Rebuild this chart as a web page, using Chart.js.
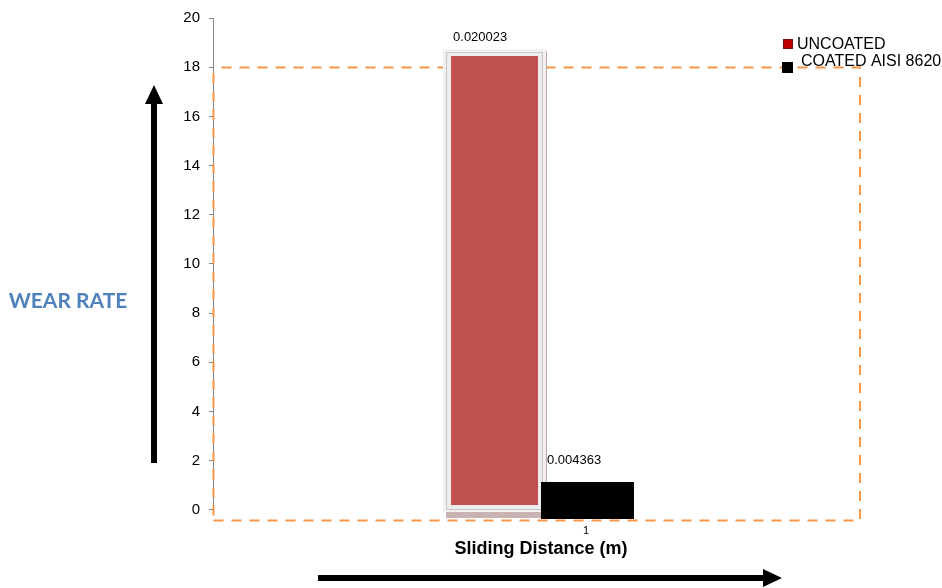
<!DOCTYPE html>
<html>
<head>
<meta charset="utf-8">
<script src="https://cdn.jsdelivr.net/npm/chart.js@4/dist/chart.umd.min.js"></script>
<style>
  html, body { margin: 0; padding: 0; background: #ffffff; }
  #wrap { width: 942px; height: 588px; position: relative; }
</style>
</head>
<body>
<div id="wrap"><canvas id="c" width="942" height="588"></canvas></div>
<script>
// Wear rate by sliding distance
const categories = ['1'];
const seriesNames = ['UNCOATED', 'COATED AISI 8620'];
const uncoated = [18.45];
const coated = [1.14];
const uncoatedBase = 0.2;
const coatedBase = -0.37;
const uncoatedLabels = ['0.020023'];
const coatedLabels = ['0.004363'];
const yTicks = [0, 2, 4, 6, 8, 10, 12, 14, 16, 18, 20];
const guideLevel = 18;

const FONT = '"Liberation Sans", Arial, sans-serif';
const RED = '#c0504d';
const ORANGE = '#f79646';

const decorations = {
  id: 'decorations',
  beforeDatasetsDraw(chart) {
    const { ctx, chartArea, scales } = chart;
    const y = scales.y;
    ctx.save();

    // dashed guide box
    ctx.strokeStyle = ORANGE;
    ctx.lineWidth = 2;
    ctx.setLineDash([10, 8]);
    const top = Math.round(y.getPixelForValue(guideLevel)) + 0.5;
    const bottom = Math.round(chartArea.bottom) - 0.5;
    const left = chartArea.left + 0.5;
    const right = chartArea.right - 9;
    ctx.beginPath();
    ctx.moveTo(left, bottom);
    ctx.lineTo(right, bottom);
    ctx.lineTo(right, top);
    ctx.lineTo(left, top);
    ctx.stroke();
    ctx.setLineDash([]);

    // value axis line
    ctx.strokeStyle = '#868686';
    ctx.lineWidth = 1;
    ctx.beginPath();
    ctx.moveTo(chartArea.left + 0.5, y.getPixelForValue(yTicks[yTicks.length - 1]));
    ctx.lineTo(chartArea.left + 0.5, y.getPixelForValue(yTicks[0]) + 2);
    ctx.stroke();

    // dashed left edge over the axis
    ctx.strokeStyle = ORANGE;
    ctx.lineWidth = 2;
    ctx.setLineDash([10, 8]);
    ctx.beginPath();
    ctx.moveTo(left, top + 6);
    ctx.lineTo(left, bottom);
    ctx.stroke();
    ctx.setLineDash([]);

    // framed panel behind the uncoated bar
    const bar = chart.getDatasetMeta(0).data[0];
    if (bar) {
      const bl = bar.x - bar.width / 2;
      const br = bar.x + bar.width / 2;
      const bt = bar.y;
      const bb = bar.base;
      ctx.fillStyle = '#c9b2b2';
      ctx.fillRect(bl - 5, bb + 7, br - bl + 10, 6);
      ctx.fillStyle = '#c7a4a4';
      ctx.fillRect(br + 7, bt - 5, 2, bb - bt + 14);
      ctx.fillStyle = '#f1f1f1';
      ctx.fillRect(bl - 8, bt - 7, br - bl + 16, bb - bt + 14);
      ctx.strokeStyle = '#c6c6c6';
      ctx.lineWidth = 1;
      ctx.strokeRect(bl - 4.5, bt - 3.5, br - bl + 9, bb - bt + 8);
      ctx.fillStyle = '#ededed';
      ctx.fillRect(bl - 4, bt - 3, br - bl + 8, bb - bt + 7);
    }
    ctx.restore();
  },
  afterDatasetsDraw(chart) {
    const { ctx } = chart;
    ctx.save();
    ctx.fillStyle = '#000';
    ctx.font = '13px ' + FONT;
    ctx.textAlign = 'left';
    ctx.textBaseline = 'middle';
    [uncoatedLabels, coatedLabels].forEach((labels, i) => {
      chart.getDatasetMeta(i).data.forEach((bar, j) => {
        const offset = i === 0 ? 2 : 6;
        const rise = i === 0 ? 19 : 21;
        ctx.fillText(labels[j], bar.x - bar.width / 2 + offset, bar.y - rise);
      });
    });
    ctx.restore();
  },
  afterDraw(chart) {
    const { ctx } = chart;
    ctx.save();

    // legend
    ctx.font = '16px ' + FONT;
    ctx.textBaseline = 'middle';
    ctx.textAlign = 'left';
    ctx.fillStyle = '#c00000';
    ctx.fillRect(783, 39, 10, 10);
    ctx.strokeStyle = '#7a1010';
    ctx.lineWidth = 1;
    ctx.strokeRect(783.5, 39.5, 9, 9);
    ctx.fillStyle = '#000';
    ctx.fillText(seriesNames[0], 797, 45);
    ctx.fillStyle = '#000';
    ctx.fillRect(782, 62, 11, 11);
    ctx.fillText(seriesNames[1], 801, 62);

    // axis arrows
    ctx.fillStyle = '#000';
    ctx.fillRect(151, 100, 6, 363);
    ctx.beginPath();
    ctx.moveTo(154, 85);
    ctx.lineTo(163, 104);
    ctx.lineTo(145, 104);
    ctx.closePath();
    ctx.fill();

    ctx.fillRect(318, 575, 448, 6);
    ctx.beginPath();
    ctx.moveTo(782, 578);
    ctx.lineTo(763, 569);
    ctx.lineTo(763, 587);
    ctx.closePath();
    ctx.fill();

    // value axis caption
    ctx.fillStyle = '#4f81bd';
    ctx.font = 'bold 21px Lato, "Open Sans", sans-serif';
    ctx.textAlign = 'center';
    ctx.fillText('WEAR RATE', 68, 301);
    ctx.restore();
  }
};

new Chart(document.getElementById('c'), {
  type: 'bar',
  data: {
    labels: categories,
    datasets: [
      {
        label: seriesNames[0],
        data: uncoated,
        base: uncoatedBase,
        backgroundColor: RED,
        barPercentage: 0.935,
        categoryPercentage: 0.2835
      },
      {
        label: seriesNames[1],
        data: coated,
        base: coatedBase,
        backgroundColor: '#000000',
        barPercentage: 1,
        categoryPercentage: 0.2835
      }
    ]
  },
  options: {
    responsive: false,
    devicePixelRatio: 1,
    animation: false,
    layout: { padding: { top: 18, right: 73, left: 0, bottom: 0 } },
    plugins: { legend: { display: false }, tooltip: { enabled: false } },
    scales: {
      x: {
        type: 'category',
        grid: { display: false, drawTicks: false },
        border: { display: false },
        ticks: { font: { family: FONT, size: 11 }, color: '#000', labelOffset: 45, padding: 3 },
        title: {
          display: true,
          text: 'Sliding Distance (m)',
          color: '#000',
          font: { family: FONT, size: 18, weight: 'bold' },
          padding: { top: 0, bottom: 28 }
        },
        afterFit(scale) { scale.height = 67; }
      },
      y: {
        type: 'linear',
        min: -0.45,
        max: 20,
        afterBuildTicks(scale) { scale.ticks = yTicks.map(v => ({ value: v })); },
        grid: { drawOnChartArea: false, drawTicks: true, tickLength: 4, color: '#868686' },
        border: { display: false },
        ticks: { font: { family: FONT, size: 15 }, color: '#000', padding: 9 },
        afterFit(scale) { scale.width = 213; }
      }
    }
  },
  plugins: [decorations]
});
</script>
</body>
</html>
